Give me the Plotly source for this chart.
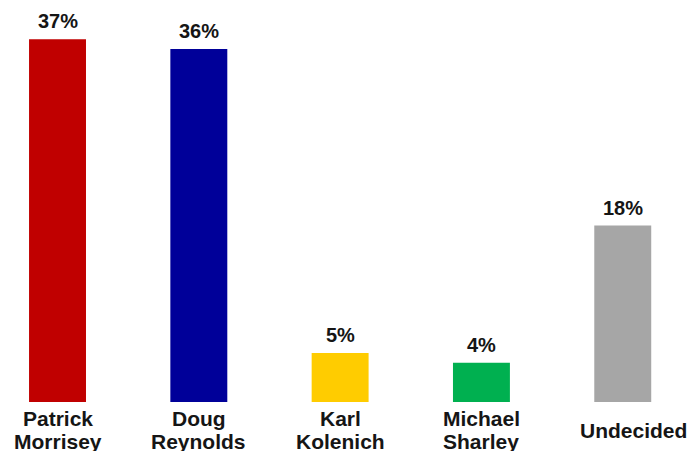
import plotly.graph_objects as go

categories = ["Patrick<br>Morrisey", "Doug<br>Reynolds", "Karl<br>Kolenich", "Michael<br>Sharley", "Undecided"]
values = [37, 36, 5, 4, 18]
value_labels = ["37%", "36%", "5%", "4%", "18%"]
colors = ["#C00000", "#000099", "#FFCC00", "#00B050", "#A6A6A6"]

xs = list(range(len(categories)))

fig = go.Figure()
fig.add_trace(go.Bar(
    x=xs, y=values, width=0.403,
    marker=dict(color=colors, line=dict(width=0)),
    hoverinfo="skip",
))

annotations = []
for x, v, t in zip(xs, values, value_labels):
    annotations.append(dict(
        x=x, y=v, xref="x", yref="y", text=t, showarrow=False,
        yanchor="middle", yshift=18,
        font=dict(family="Liberation Sans, Arial", size=20, color="#151515", weight="bold"),
    ))

line_gap = 23
for x, lab in zip(xs, categories):
    lines = lab.split("<br>")
    n = len(lines)
    xshift = 11 if n == 1 else 0
    for k, ln in enumerate(lines):
        offset = (k - (n - 1) / 2) * line_gap
        annotations.append(dict(
            x=x, y=0, xref="x", yref="paper", text=ln, showarrow=False,
            yanchor="middle", yshift=-(28 + offset), xshift=xshift,
            font=dict(family="Liberation Sans, Arial", size=21, color="#151515", weight="bold"),
        ))

fig.update_layout(
    width=691, height=451,
    margin=dict(l=0, r=0, t=0, b=49),
    paper_bgcolor="white", plot_bgcolor="white",
    showlegend=False,
    xaxis=dict(range=[-0.407, 4.483], showticklabels=False, showgrid=False,
               zeroline=False, showline=False, ticks=""),
    yaxis=dict(range=[0, 41.0], showticklabels=False, showgrid=False,
               zeroline=False, showline=False, ticks=""),
    annotations=annotations,
)

fig.write_html("out.html", config={"displayModeBar": False},
               post_script="document.body.style.margin='0';document.body.style.overflow='hidden';")
